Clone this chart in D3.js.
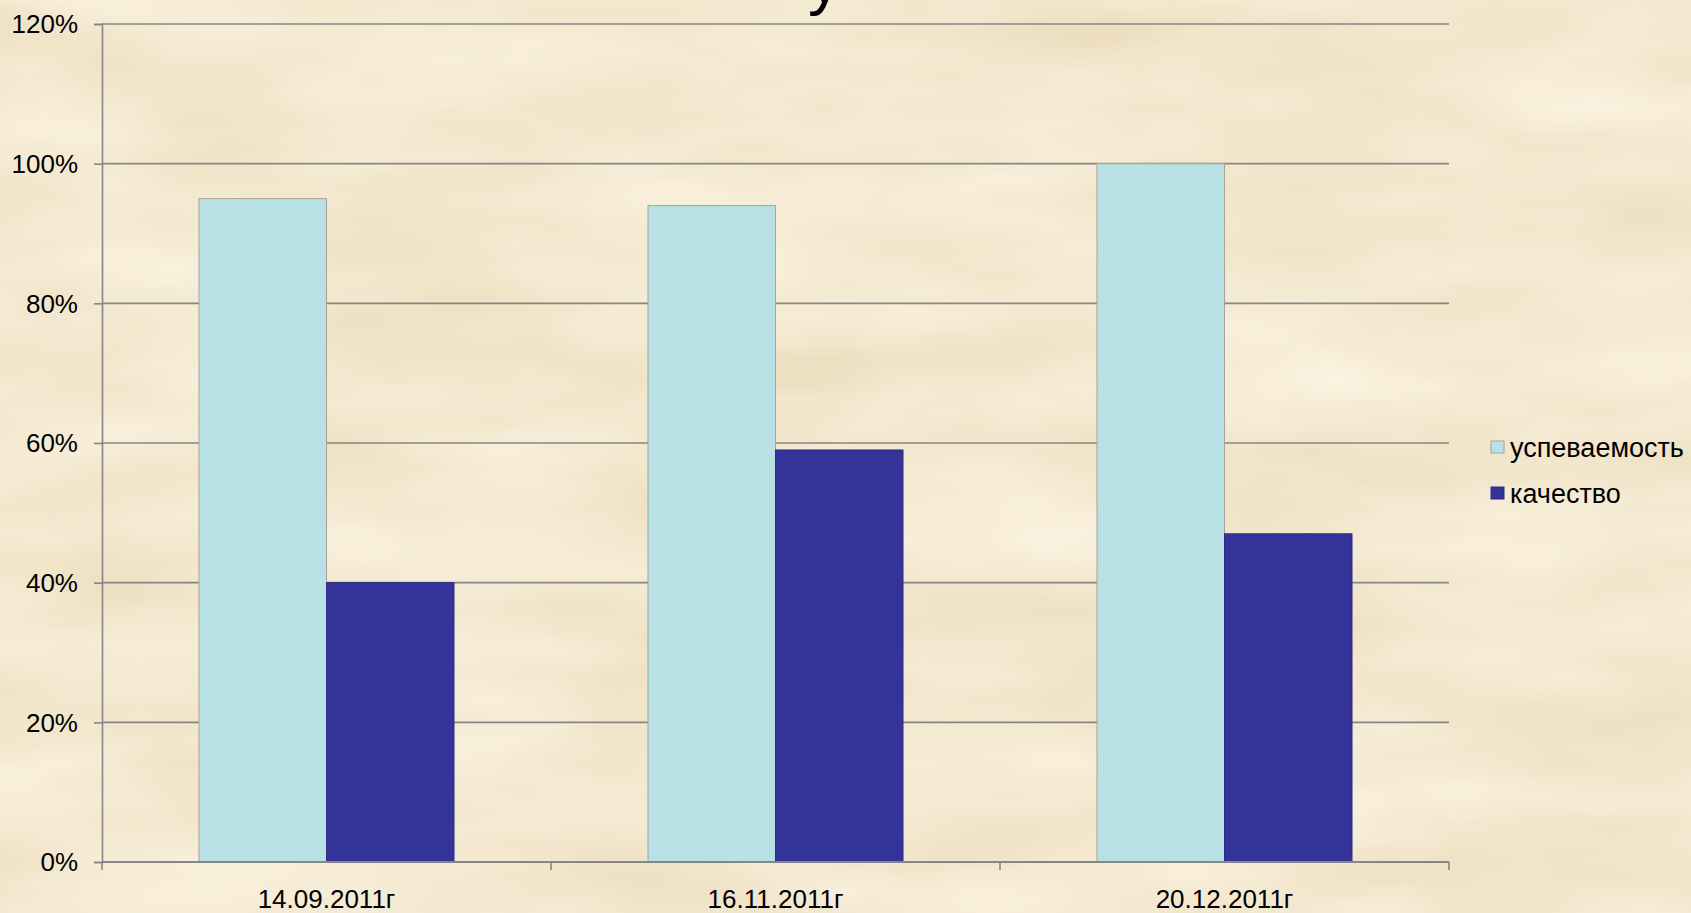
<!DOCTYPE html>
<html>
<head>
<meta charset="utf-8">
<script src="https://cdn.jsdelivr.net/npm/d3@7"></script>
<style>
  html, body { margin: 0; padding: 0; overflow: hidden; background: #ECD7AE; }
  svg { display: block; }
  text { font-family: "Liberation Sans", Arial, sans-serif; fill: #000; }
</style>
</head>
<body>
<svg id="chart" width="1691" height="913"></svg>
<script>
const categories = ["14.09.2011г", "16.11.2011г", "20.12.2011г"];
const seriesNames = ["успеваемость", "качество"];
const uspevaemost = [0.95, 0.94, 1.00];
const kachestvo = [0.40, 0.59, 0.47];
const yTicks = [0, 0.2, 0.4, 0.6, 0.8, 1.0, 1.2];
const seriesColors = ["#B9E0E4", "#333399"];

const W = 1691, H = 913;
const svg = d3.select("#chart");
const defs = svg.append("defs");

// parchment texture background
const f = defs.append("filter").attr("id", "parch").attr("x", 0).attr("y", 0).attr("width", "100%").attr("height", "100%");
f.append("feTurbulence").attr("type", "fractalNoise").attr("baseFrequency", "0.0035 0.012").attr("numOctaves", 3).attr("seed", 7).attr("result", "n");
f.append("feColorMatrix").attr("in", "n").attr("type", "matrix")
  .attr("values", "0 0 0 0.16 0.82  0 0 0 0.20 0.71  0 0 0 0.28 0.49  0 0 0 0 1");
svg.append("rect").attr("width", W).attr("height", H).attr("fill", "#ECD7AE");
svg.append("rect").attr("width", W).attr("height", H).attr("filter", "url(#parch)");

// partially visible title glyph (title is cut off above the frame)
svg.append("text").attr("x", 808).attr("y", 2).attr("font-size", 66).text("у");

const margin = { left: 102, right: W - 1449, top: 24, bottom: H - 862 };
const x0 = d3.scaleBand().domain(categories).range([margin.left, W - margin.right]).paddingInner(0).paddingOuter(0);
const innerPad = (x0.bandwidth() - 255) / 2;
const x1 = d3.scaleBand().domain(seriesNames).range([innerPad, x0.bandwidth() - innerPad]);
const y = d3.scaleLinear().domain([0, 1.2]).range([862, 24]);

// gridlines
svg.append("g").selectAll("line").data(yTicks.filter(d => d > 0)).join("line")
  .attr("x1", margin.left).attr("x2", W - margin.right)
  .attr("y1", d => y(d)).attr("y2", d => y(d))
  .attr("stroke", "#868686").attr("stroke-width", 1.6);

// y axis
const yAxis = d3.axisLeft(y).tickValues(yTicks).tickFormat(d3.format(".0%")).tickSize(8).tickPadding(16);
const gy = svg.append("g").attr("transform", `translate(${margin.left},0)`).call(yAxis);
gy.select(".domain").attr("stroke", "#868686").attr("stroke-width", 1.6);
gy.selectAll(".tick line").attr("stroke", "#868686").attr("stroke-width", 1.6);
gy.selectAll(".tick text").attr("font-size", 26).attr("fill", "#000").attr("dy", "0.34em")
  .style("font-family", "'Liberation Sans', Arial, sans-serif");

// bars
const rows = categories.map((c, i) => ({ cat: c, vals: [uspevaemost[i], kachestvo[i]] }));
const g = svg.append("g").selectAll("g").data(rows).join("g")
  .attr("transform", d => `translate(${x0(d.cat)},0)`);
g.selectAll("rect").data(d => d.vals.map((v, j) => ({ v, s: seriesNames[j], j }))).join("rect")
  .attr("x", d => x1(d.s)).attr("width", x1.bandwidth())
  .attr("y", d => y(d.v)).attr("height", d => y(0) - y(d.v))
  .attr("fill", d => seriesColors[d.j])
  .attr("stroke", d => d.j === 0 ? "#A4A49A" : "#2C2C85").attr("stroke-width", 1);

// x axis
const xTickScale = d3.scaleLinear().domain([0, 3]).range([margin.left, W - margin.right]);
const gx = svg.append("g");
gx.append("line").attr("x1", margin.left).attr("x2", W - margin.right).attr("y1", y(0)).attr("y2", y(0))
  .attr("stroke", "#868686").attr("stroke-width", 1.8);
gx.selectAll("line.t").data([0, 1, 2, 3]).join("line").attr("class", "t")
  .attr("x1", d => xTickScale(d)).attr("x2", d => xTickScale(d))
  .attr("y1", y(0)).attr("y2", y(0) + 8).attr("stroke", "#868686").attr("stroke-width", 1.6);
gx.selectAll("text").data(categories).join("text")
  .attr("x", d => x0(d) + x0.bandwidth() / 2).attr("y", 908)
  .attr("text-anchor", "middle").attr("font-size", 26).text(d => d);

// legend
const lg = svg.append("g").selectAll("g").data(seriesNames).join("g")
  .attr("transform", (d, i) => `translate(1491,${441 + i * 46})`);
lg.append("rect").attr("width", 13).attr("height", 12)
  .attr("fill", (d, i) => seriesColors[i]).attr("stroke", (d, i) => i === 0 ? "#A4A49A" : "#2C2C85").attr("stroke-width", 1);
lg.append("text").attr("x", 19).attr("y", 16).attr("font-size", 27).text(d => d);
</script>
</body>
</html>
